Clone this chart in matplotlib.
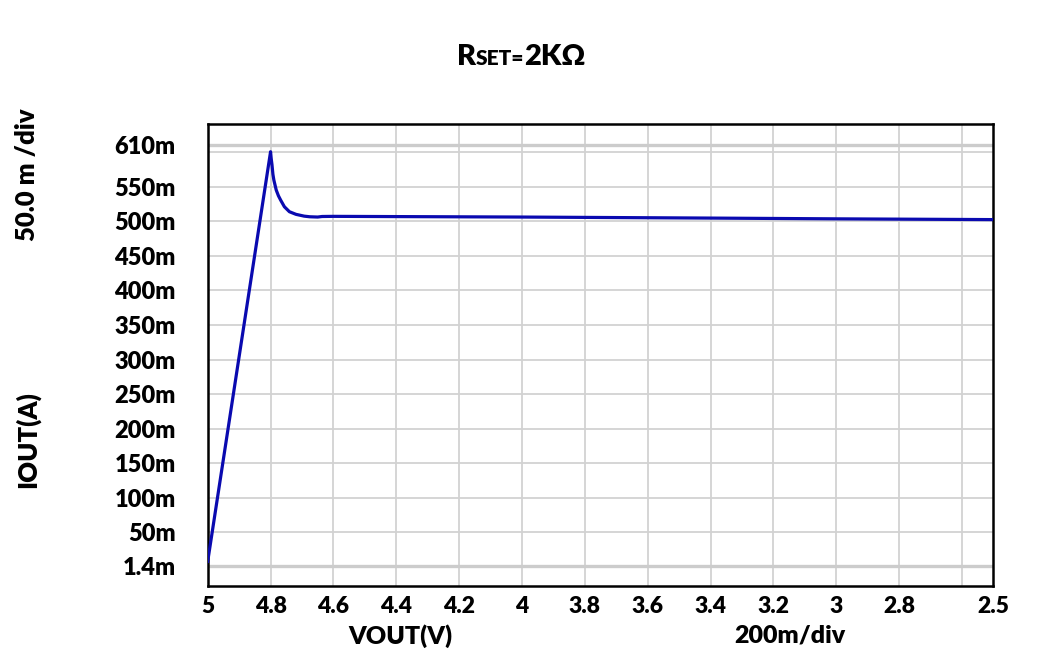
import matplotlib
matplotlib.use("Agg")
import matplotlib.pyplot as plt
from matplotlib.offsetbox import TextArea, HPacker, AnchoredOffsetbox

# ---- data ----
vout = [5.0, 4.8, 4.798, 4.7955, 4.7925, 4.7895, 4.782, 4.775, 4.768, 4.756, 4.740,
        4.719, 4.693, 4.675, 4.650, 4.636,
        4.600, 4.0, 3.4, 3.0, 2.5]
iout = [0.008, 0.6007, 0.591, 0.582, 0.568, 0.5597, 0.5453, 0.537, 0.5308, 0.5211, 0.5139,
        0.5101, 0.5075, 0.5066, 0.5062, 0.5070,
        0.5072, 0.5062, 0.5047, 0.5036, 0.5025]

x_ticks = [5, 4.8, 4.6, 4.4, 4.2, 4, 3.8, 3.6, 3.4, 3.2, 3, 2.8, 2.5]
x_tick_labels = ["5", "4.8", "4.6", "4.4", "4.2", "4", "3.8", "3.6", "3.4", "3.2", "3", "2.8", "2.5"]
x_grid = [4.8, 4.6, 4.4, 4.2, 4.0, 3.8, 3.6, 3.4, 3.2, 3.0, 2.8, 2.6]

y_ticks = [0.0014, 0.05, 0.10, 0.15, 0.20, 0.25, 0.30, 0.35, 0.40, 0.45, 0.50, 0.55, 0.61]
y_tick_labels = ["1.4m", "50m", "100m", "150m", "200m", "250m", "300m", "350m",
                 "400m", "450m", "500m", "550m", "610m"]
y_grid = [0.05, 0.10, 0.15, 0.20, 0.25, 0.30, 0.35, 0.40, 0.45, 0.50, 0.55, 0.60]
y_grid_bold = [0.0014, 0.61]

FONT = "Lato"
W = "heavy"
plt.rcParams["font.family"] = [FONT, "DejaVu Sans"]
plt.rcParams["font.weight"] = W

fig = plt.figure(figsize=(10.37, 6.70), dpi=100)
ax = fig.add_axes([0.2003, 0.1254, 0.9579 - 0.2003, 0.8149 - 0.1254])

grid_c = "#d2d2d2"
for xv in x_grid:
    ax.axvline(xv, color=grid_c, lw=1.3, zorder=1)
for yv in y_grid:
    ax.axhline(yv, color=grid_c, lw=1.3, zorder=1)
for yv in y_grid_bold:
    ax.axhline(yv, color="#cccccc", lw=2.4, zorder=1)

ax.plot(vout, iout, color="#0a0ab0", lw=2.3, zorder=3, solid_joinstyle="round")

ax.set_xlim(5.0, 2.5)
ax.set_ylim(-0.0276, 0.6408)

ax.set_xticks(x_ticks)
ax.set_xticklabels(x_tick_labels, fontsize=16.5, fontweight=W)
ax.set_yticks(y_ticks)
ax.set_yticklabels(y_tick_labels, fontsize=17, fontweight=W)
ax.tick_params(axis="both", length=0)
ax.tick_params(axis="x", pad=7)
ax.tick_params(axis="y", pad=23)
for lab in ax.get_yticklabels():
    lab.set_horizontalalignment("right")

for s in ax.spines.values():
    s.set_linewidth(1.8)
    s.set_color("black")

# axis labels
fig.text(400 / 1037, 1 - 636 / 670, "VOUT(V)", ha="center", va="center", fontsize=18, fontweight=W)
fig.text(790 / 1037, 1 - 636 / 670, "200m/div", ha="center", va="center", fontsize=18, fontweight=W)
fig.text(27 / 1037, 1 - 175 / 670, "50.0 m /div", ha="center", va="center", rotation=90,
         fontsize=18.5, fontweight=W)
fig.text(27 / 1037, 1 - 440 / 670, "IOUT(A)", ha="center", va="center", rotation=90,
         fontsize=18.5, fontweight=W)

# title with small-caps part
t1 = TextArea("R", textprops=dict(fontsize=21, fontweight=W))
t2 = TextArea("SET=", textprops=dict(fontsize=15, fontweight=W))
t3 = TextArea("2KΩ", textprops=dict(fontsize=21, fontweight=W))
box = HPacker(children=[t1, t2, t3], align="baseline", pad=0, sep=0)
anch = AnchoredOffsetbox(loc="center", child=box, frameon=False,
                         bbox_to_anchor=(521 / 1037, 1 - 57 / 670),
                         bbox_transform=fig.transFigure, pad=0, borderpad=0)
fig.add_artist(anch)

fig.savefig("out.png", dpi=100, facecolor="white")
